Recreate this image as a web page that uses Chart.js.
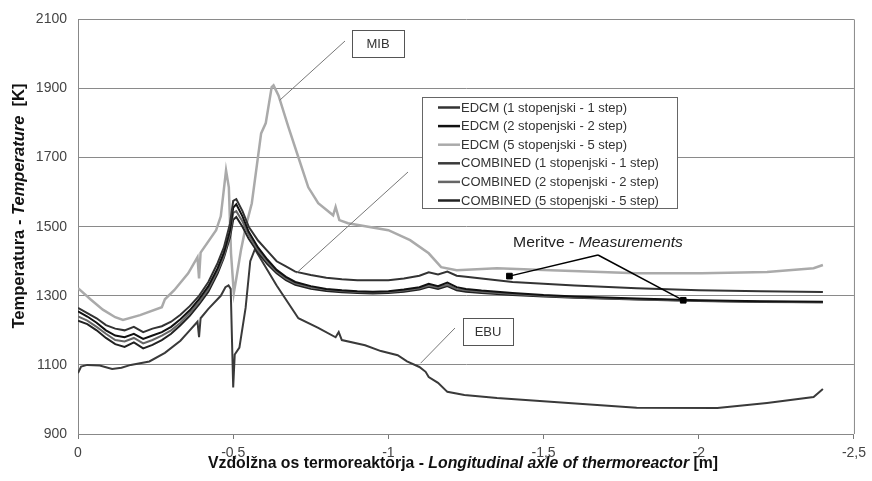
<!DOCTYPE html>
<html>
<head>
<meta charset="utf-8">
<script src="https://cdn.jsdelivr.net/npm/chart.js@4"></script>
<style>
  html, body { margin: 0; padding: 0; background: #fff; }
</style>
</head>
<body>
<canvas id="myChart" width="872" height="481"></canvas>
<script>
// positions along the reactor [m] shared by the four clustered curves
const clusterX = [0, -0.03, -0.06, -0.09, -0.12, -0.15, -0.18, -0.21, -0.24, -0.27, -0.30, -0.33, -0.36, -0.39, -0.42, -0.45, -0.47, -0.49, -0.50, -0.51, -0.53, -0.55, -0.58, -0.61, -0.64, -0.67, -0.70, -0.75, -0.80, -0.85, -0.90, -0.95, -1.00, -1.05, -1.10, -1.13, -1.16, -1.19, -1.22, -1.25, -1.30, -1.40, -1.50, -1.60, -1.80, -2.00, -2.20, -2.40];
const edcm1T = [1265, 1250, 1235, 1215, 1205, 1200, 1210, 1195, 1205, 1212, 1225, 1245, 1270, 1300, 1340, 1395, 1440, 1510, 1575, 1580, 1545, 1500, 1460, 1430, 1400, 1385, 1370, 1360, 1352, 1348, 1345, 1345, 1345, 1350, 1358, 1368, 1362, 1370, 1358, 1355, 1350, 1340, 1335, 1330, 1322, 1316, 1313, 1311];
const edcm2T = [1255, 1240, 1222, 1200, 1185, 1180, 1190, 1175, 1185, 1195, 1210, 1232, 1258, 1290, 1328, 1380, 1425, 1490, 1555, 1565, 1530, 1485, 1440, 1405, 1375, 1355, 1340, 1328, 1320, 1316, 1313, 1312, 1313, 1318, 1325, 1335, 1328, 1338, 1325, 1320, 1315, 1308, 1302, 1298, 1292, 1287, 1284, 1283];
const comb2T = [1240, 1228, 1210, 1190, 1172, 1168, 1178, 1162, 1172, 1185, 1200, 1222, 1250, 1282, 1320, 1372, 1415, 1480, 1540, 1545, 1515, 1475, 1432, 1398, 1370, 1350, 1336, 1325, 1318, 1314, 1311, 1310, 1311, 1315, 1322, 1330, 1324, 1332, 1320, 1316, 1312, 1305, 1300, 1296, 1290, 1286, 1283, 1281];
const comb5T = [1228, 1218, 1200, 1178, 1160, 1152, 1165, 1148, 1158, 1172, 1190, 1215, 1242, 1275, 1312, 1365, 1410, 1470, 1520, 1528, 1500, 1465, 1425, 1392, 1365, 1345, 1332, 1320, 1314, 1310, 1308, 1307, 1308, 1312, 1318, 1326, 1320, 1328, 1316, 1312, 1308, 1302, 1298, 1294, 1289, 1285, 1282, 1281];

// light grey curve (MIB)
const edcm5X = [0, -0.04, -0.08, -0.12, -0.145, -0.2, -0.27, -0.28, -0.31, -0.355, -0.385, -0.39, -0.395, -0.445, -0.46, -0.477, -0.486, -0.493, -0.502, -0.51, -0.525, -0.54, -0.56, -0.59, -0.605, -0.624, -0.63, -0.646, -0.678, -0.71, -0.742, -0.774, -0.822, -0.83, -0.842, -0.87, -1.0, -1.07, -1.13, -1.17, -1.22, -1.35, -1.5, -1.8, -2.01, -2.22, -2.37, -2.4];
const edcm5T = [1322, 1290, 1260, 1238, 1230, 1244, 1267, 1290, 1316, 1365, 1412, 1350, 1425, 1490, 1530, 1663, 1614, 1423, 1308, 1350, 1432, 1498, 1568, 1770, 1800, 1904, 1909, 1880, 1788, 1701, 1614, 1568, 1533, 1557, 1519, 1510, 1490, 1461, 1423, 1383, 1374, 1380, 1375, 1365, 1365, 1369, 1380, 1389];

// lowest curve (EBU)
const comb1X = [0, -0.01, -0.03, -0.07, -0.11, -0.14, -0.17, -0.23, -0.28, -0.33, -0.36, -0.385, -0.39, -0.395, -0.42, -0.46, -0.475, -0.485, -0.492, -0.5, -0.505, -0.52, -0.54, -0.555, -0.57, -0.6, -0.64, -0.71, -0.774, -0.83, -0.84, -0.85, -0.925, -0.976, -1.03, -1.06, -1.1, -1.12, -1.13, -1.16, -1.19, -1.245, -1.35, -1.58, -1.8, -2.06, -2.22, -2.37, -2.4];
const comb1T = [1076, 1095, 1100, 1098, 1088, 1092, 1100, 1110, 1135, 1170, 1200, 1225, 1180, 1235, 1262, 1300, 1325, 1330, 1320, 1035, 1130, 1150, 1265, 1400, 1435, 1390, 1330, 1235, 1207, 1180, 1195, 1172, 1157, 1140, 1128, 1110, 1094, 1080, 1065, 1048, 1022, 1013, 1004, 990, 976, 975, 990, 1007, 1030];

const measX = [-1.39, -1.95];
const measT = [1357, 1287];

const seriesNames = ['EDCM (1 stopenjski - 1 step)', 'EDCM (2 stopenjski - 2 step)', 'EDCM (5 stopenjski - 5 step)',
  'COMBINED (1 stopenjski - 1 step)', 'COMBINED (2 stopenjski - 2 step)', 'COMBINED (5 stopenjski - 5 step)'];
const seriesColors = ['#333333', '#111111', '#aaaaaa', '#3a3a3a', '#666666', '#222222'];

const yTicks = [900, 1100, 1300, 1500, 1700, 1900, 2100];

const FONT = '"Liberation Sans", Arial, sans-serif';
Chart.defaults.font.family = FONT;

const pts = (xs, ys) => xs.map((x, i) => ({ x: x, y: ys[i] }));

function seg(ctx, x1, y1, x2, y2) {
  ctx.beginPath();
  ctx.moveTo(x1, y1);
  ctx.lineTo(x2, y2);
  ctx.stroke();
}

// draws text made of several font parts, centred on (cx, cy), stretched to a width
function partsText(ctx, parts, cx, cy, width) {
  let total = 0;
  parts.forEach(p => { ctx.font = p.f; p.w = ctx.measureText(p.t).width; total += p.w; });
  const sx = width ? width / total : 1;
  ctx.save();
  ctx.translate(cx, cy);
  ctx.scale(sx, 1);
  ctx.textBaseline = 'middle';
  ctx.textAlign = 'left';
  let x = -total / 2;
  parts.forEach(p => { ctx.font = p.f; ctx.fillText(p.t, x, 0); x += p.w; });
  ctx.restore();
}

function labelBox(ctx, x, y, w, h, text) {
  ctx.fillStyle = '#fff';
  ctx.fillRect(x, y, w, h);
  ctx.strokeStyle = '#555';
  ctx.lineWidth = 1;
  ctx.strokeRect(x + 0.5, y + 0.5, w, h);
  ctx.fillStyle = '#333';
  ctx.font = '13px ' + FONT;
  ctx.textAlign = 'center';
  ctx.textBaseline = 'middle';
  ctx.fillText(text, x + w / 2, y + h / 2 + 1);
}

const extras = {
  id: 'extras',
  afterDatasetsDraw(chart) {
    const { ctx, chartArea: a } = chart;
    const sx = chart.scales.x, sy = chart.scales.y;
    ctx.save();

    ctx.strokeStyle = '#888';
    ctx.lineWidth = 1;
    seg(ctx, a.right + 0.5, a.top, a.right + 0.5, a.bottom);

    // callout lines
    ctx.strokeStyle = '#777';
    seg(ctx, 345, 41, sx.getPixelForValue(-0.65), sy.getPixelForValue(1866));
    seg(ctx, 455, 328, sx.getPixelForValue(-1.104), sy.getPixelForValue(1105));
    seg(ctx, 408, 172, sx.getPixelForValue(-0.704), sy.getPixelForValue(1366));

    ctx.strokeStyle = '#000';
    ctx.lineWidth = 1.5;
    measX.forEach((mx, i) => seg(ctx, 598, 255, sx.getPixelForValue(mx), sy.getPixelForValue(measT[i])));

    labelBox(ctx, 352, 30, 52, 27, 'MIB');
    labelBox(ctx, 463, 318, 50, 27, 'EBU');

    ctx.fillStyle = '#222';
    partsText(ctx, [
      { t: 'Meritve - ', f: '15px ' + FONT },
      { t: 'Measurements', f: 'italic 15px ' + FONT }
    ], 598, 243, 170);

    // legend
    ctx.fillStyle = '#fff';
    ctx.fillRect(422, 97, 255, 111);
    ctx.strokeStyle = '#666';
    ctx.lineWidth = 1;
    ctx.strokeRect(422.5, 97.5, 255, 111);
    ctx.font = '13px ' + FONT;
    ctx.textAlign = 'left';
    ctx.textBaseline = 'middle';
    seriesNames.forEach((name, i) => {
      const yy = 107.5 + i * 18.6;
      ctx.strokeStyle = seriesColors[i];
      ctx.lineWidth = 2.5;
      seg(ctx, 438, yy, 460, yy);
      ctx.fillStyle = '#333';
      ctx.fillText(name, 461, yy + 0.5);
    });

    // axis titles
    ctx.fillStyle = '#111';
    partsText(ctx, [
      { t: 'Vzdolžna os termoreaktorja - ', f: 'bold 17px ' + FONT },
      { t: 'Longitudinal axle of thermoreactor', f: 'italic bold 17px ' + FONT },
      { t: ' [m]', f: 'bold 17px ' + FONT }
    ], 463, 463, 510);

    ctx.save();
    ctx.translate(20, 206);
    ctx.rotate(-Math.PI / 2);
    partsText(ctx, [
      { t: 'Temperatura - ', f: 'bold 16px ' + FONT },
      { t: 'Temperature', f: 'italic bold 16px ' + FONT },
      { t: '  [K]', f: 'bold 16px ' + FONT }
    ], 0, 0, 245);
    ctx.restore();

    ctx.restore();
  }
};

const line = (label, xs, ys, i, w) => ({
  label: label,
  data: pts(xs, ys),
  borderColor: seriesColors[i],
  borderWidth: w,
  pointRadius: 0,
  tension: 0,
  fill: false,
  order: 1
});

new Chart(document.getElementById('myChart'), {
  type: 'line',
  data: {
    datasets: [
      {
        label: 'Meritve',
        data: pts(measX, measT),
        showLine: false,
        pointStyle: 'rect',
        pointRadius: 4,
        backgroundColor: '#000',
        borderColor: '#000',
        order: 0
      },
      line(seriesNames[0], clusterX, edcm1T, 0, 2),
      line(seriesNames[1], clusterX, edcm2T, 1, 2),
      line(seriesNames[4], clusterX, comb2T, 4, 2),
      line(seriesNames[5], clusterX, comb5T, 5, 2),
      line(seriesNames[3], comb1X, comb1T, 3, 2),
      line(seriesNames[2], edcm5X, edcm5T, 2, 2.5)
    ]
  },
  options: {
    responsive: false,
    animation: false,
    devicePixelRatio: 1,
    layout: { padding: { top: 19, right: 13, left: 0, bottom: 0 } },
    plugins: {
      legend: { display: false },
      tooltip: { enabled: false }
    },
    scales: {
      x: {
        type: 'linear',
        min: -2.5,
        max: 0,
        reverse: true,
        afterFit: s => { s.height = 47; },
        ticks: {
          stepSize: 0.5,
          color: '#444',
          font: { size: 14 },
          padding: 6,
          maxRotation: 0,
          callback: v => String(v).replace('.', ',')
        },
        grid: { drawOnChartArea: false, drawTicks: true, tickLength: 5, color: '#777' },
        border: { color: '#888' }
      },
      y: {
        min: 900,
        max: 2100,
        afterFit: s => { s.width = 78; },
        afterBuildTicks: s => { s.ticks = yTicks.map(v => ({ value: v })); },
        ticks: { color: '#444', font: { size: 14 }, padding: 11, callback: v => String(v) },
        grid: { color: '#8a8a8a', lineWidth: 1, drawTicks: false },
        border: { color: '#888' }
      }
    }
  },
  plugins: [extras]
});
</script>
</body>
</html>
